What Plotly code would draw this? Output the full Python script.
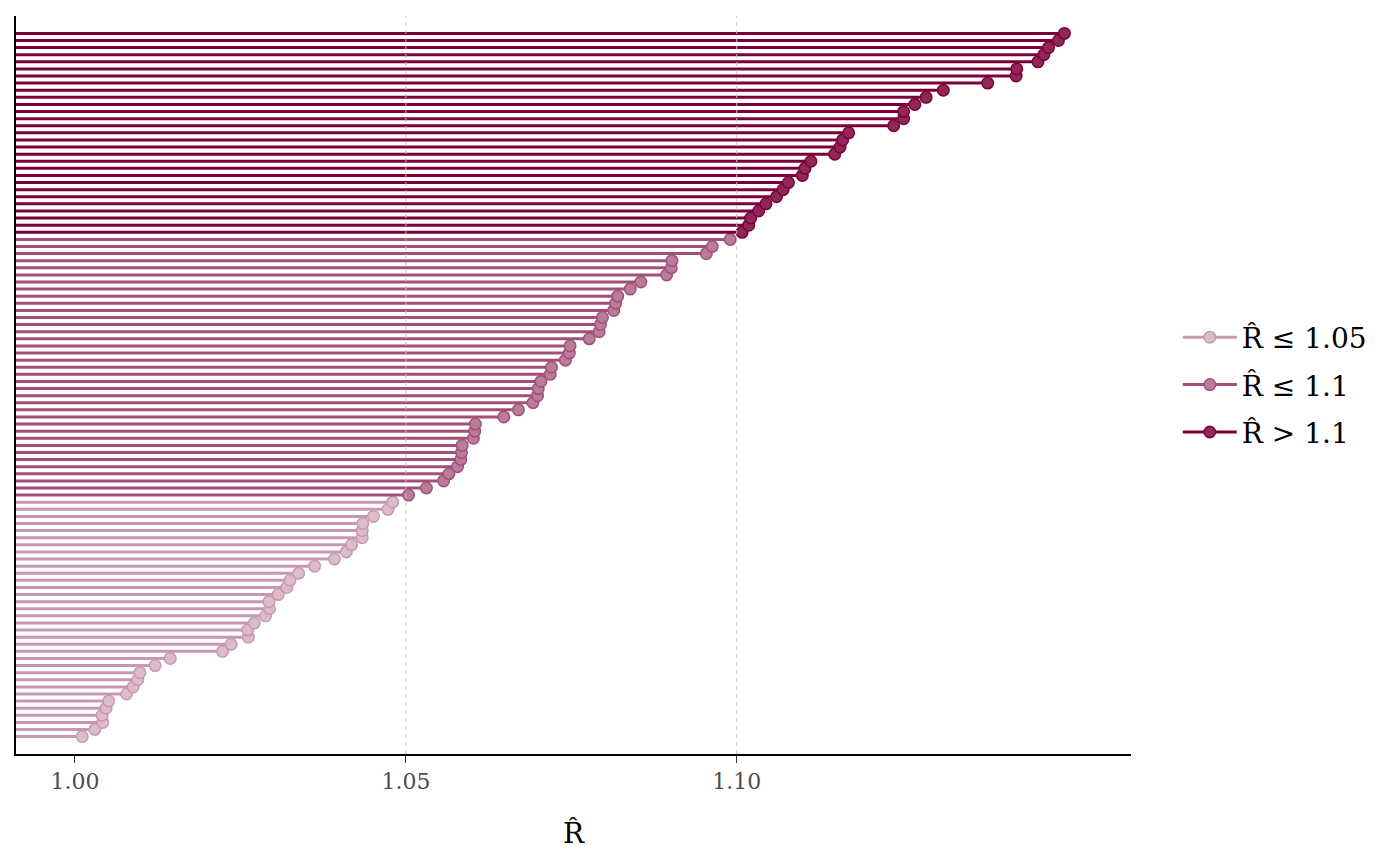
import plotly.graph_objects as go

# Rhat values, sorted ascending (bottom row first)
rhat_low = [1.0011, 1.0030, 1.0042, 1.0041, 1.0047, 1.0051, 1.0078, 1.0088, 1.0095, 1.0098,
            1.0121, 1.0144, 1.0223, 1.0236, 1.0262, 1.0261, 1.0271, 1.0288, 1.0294, 1.0293,
            1.0307, 1.0320, 1.0325, 1.0338, 1.0362, 1.0392, 1.0410, 1.0418, 1.0434, 1.0434,
            1.0435, 1.0451, 1.0473, 1.0480]
rhat_mid = [1.0504, 1.0531, 1.0557, 1.0565, 1.0578, 1.0583, 1.0584, 1.0585, 1.0602, 1.0604,
            1.0605, 1.0648, 1.0670, 1.0692, 1.0699, 1.0700, 1.0704, 1.0718, 1.0720, 1.0741,
            1.0747, 1.0748, 1.0777, 1.0792, 1.0794, 1.0797, 1.0814, 1.0817, 1.0820, 1.0839,
            1.0855, 1.0894, 1.0901, 1.0902, 1.0954, 1.0963, 1.0990]
rhat_high = [1.1008, 1.1018, 1.1021, 1.1033, 1.1044, 1.1060, 1.1070, 1.1078, 1.1099, 1.1103,
             1.1112, 1.1148, 1.1156, 1.1160, 1.1169, 1.1237, 1.1252, 1.1252, 1.1269, 1.1286,
             1.1312, 1.1379, 1.1422, 1.1423, 1.1455, 1.1464, 1.1471, 1.1486, 1.1495]

labels = ["R\u0302 \u2264 1.05", "R\u0302 \u2264 1.1", "R\u0302 > 1.1"]
fills = ["#dcbccc", "#b97c9b", "#8f275b"]
lines = ["#c799b0", "#a25079", "#7c0037"]

x_lo, x_hi = 0.99109, 1.15956
font = "DejaVu Serif"

fig = go.Figure()

start = 1
for vals, lab, fc, lc in zip([rhat_low, rhat_mid, rhat_high], labels, fills, lines):
    ys = list(range(start, start + len(vals)))
    start += len(vals)
    sx, sy, px, py = [], [], [], []
    for v, y in zip(vals, ys):
        sx += [x_lo, v, None]
        sy += [y, y, None]
        px += [v, None]
        py += [y, None]
    fig.add_trace(go.Scatter(x=sx, y=sy, mode="lines", line=dict(color=lc, width=3),
                             showlegend=False, hoverinfo="skip"))
    fig.add_trace(go.Scatter(x=px, y=py, mode="lines+markers", name=lab, legendgroup=lab,
                             line=dict(color=lc, width=3),
                             marker=dict(size=11.5, color=fc, line=dict(color=lc, width=1.5))))

for v in [1.05, 1.10]:
    fig.add_vline(x=v, line=dict(color="#bfbfbf", width=1, dash="4px,4px"), layer="above")

# page body has an 8px margin, so the left/top margins are reduced by 8
fig.update_layout(
    width=1400, height=866,
    margin=dict(l=8, r=277, t=8, b=120),
    plot_bgcolor="white", paper_bgcolor="white",
    font=dict(family=font, color="black"),
    legend=dict(x=1.042, y=0.5, yanchor="middle", xanchor="left",
                font=dict(size=28, family=font), tracegroupgap=8, itemwidth=54),
    xaxis=dict(range=[x_lo, x_hi], showgrid=False, zeroline=False,
               showline=True, linecolor="black", linewidth=1.5,
               ticks="outside", ticklen=7, tickcolor="#333333", tickwidth=1,
               tickvals=[1.00, 1.05, 1.10], ticktext=["1.00", "1.05", "1.10"],
               tickfont=dict(size=22, color="#4d4d4d", family=font),
               title=dict(text="R\u0302", font=dict(size=28, family=font), standoff=30)),
    yaxis=dict(range=[1 - 2.45, 100 + 2.45], showgrid=False, zeroline=False,
               showline=True, linecolor="black", linewidth=1.5,
               showticklabels=False, ticks=""),
)

fig.write_html("out.html")
